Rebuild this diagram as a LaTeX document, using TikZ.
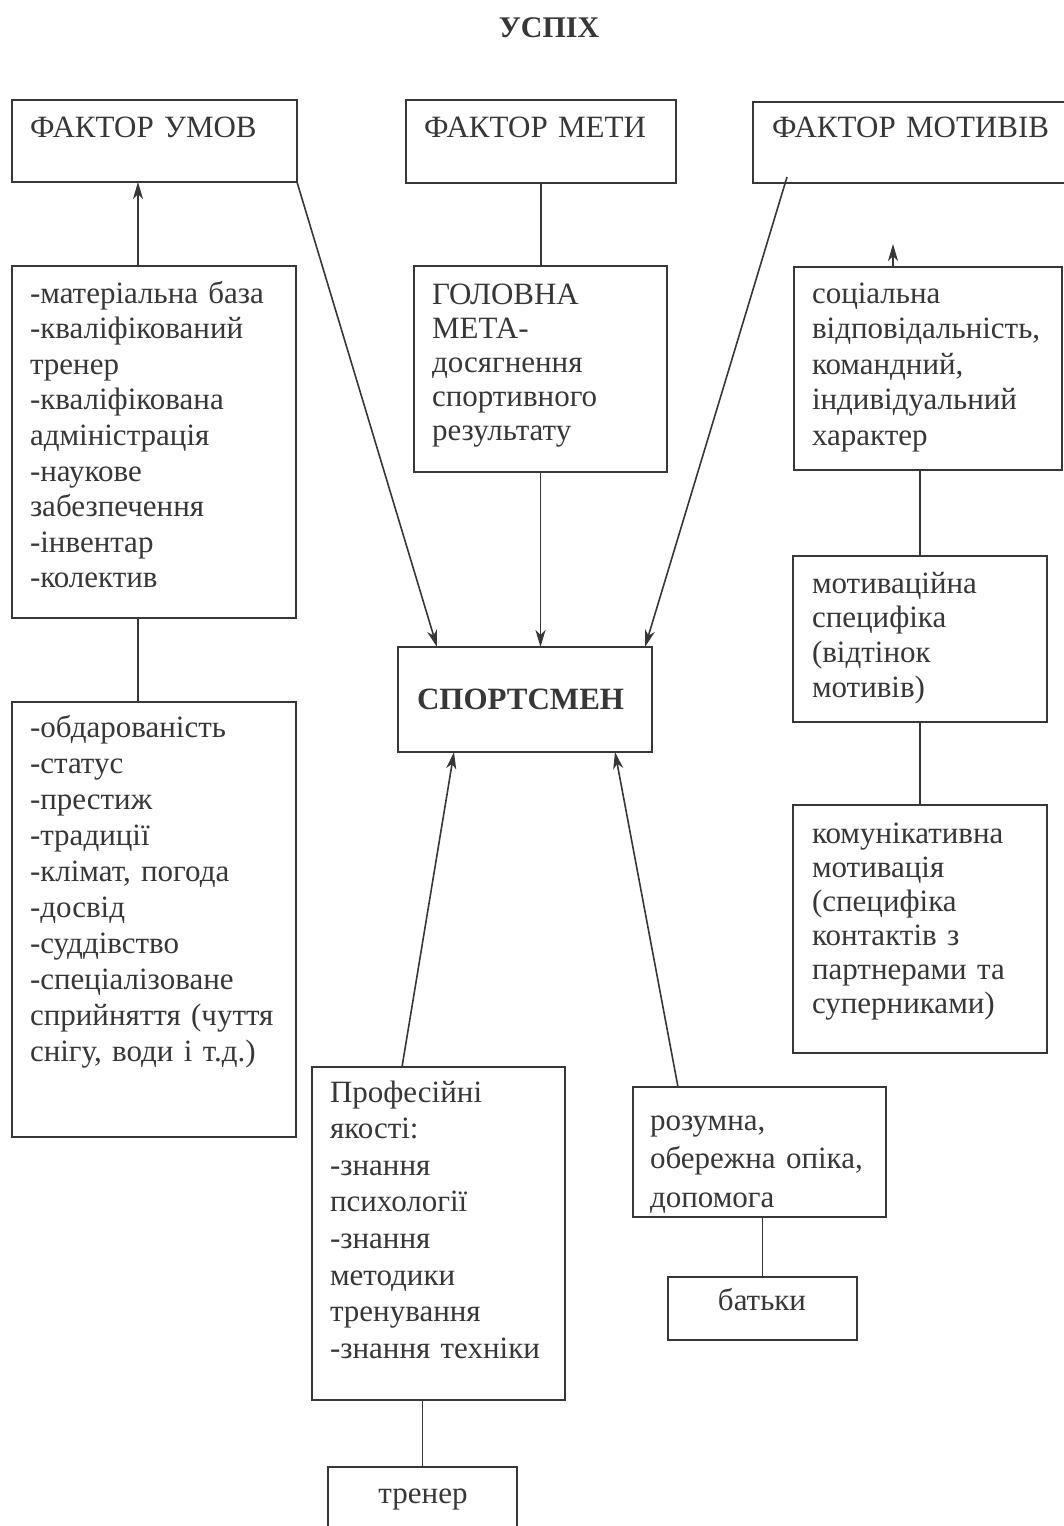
\documentclass[tikz,border=0pt]{standalone}
\usepackage{fontspec}
\setmainfont{Liberation Serif}
\usetikzlibrary{arrows.meta}
\definecolor{ink}{RGB}{55,55,55}
\tikzset{
  box/.style={draw=ink, line width=1.9pt, inner sep=0pt, outer sep=0pt, anchor=north west},
  txt/.style={text=ink, inner sep=0pt, outer sep=0pt, anchor=base west, align=left, text width=#1},
  txt/.default=300pt,
  lsp/.style={font=\fontsize{31}{#1}\selectfont},
  conn/.style={draw=ink, line width=1.6pt},
  arr/.style={conn, -{Stealth[length=17pt,width=10pt,inset=5pt]}},
}
\begin{document}
\begin{tikzpicture}[x=1pt,y=-1pt]
\useasboundingbox (0,0) rectangle (1064,1526);
\clip (0,0) rectangle (1064,1526);
% title
\node[text=ink, inner sep=0pt, anchor=base, font=\fontsize{30}{36}\selectfont\bfseries] (title) at (549,37) {УСПІХ};
% boxes
\node[box, minimum width=285pt, minimum height=82pt] (fU) at (12,100) {};
\node[box, minimum width=270pt, minimum height=83pt] (fM) at (406,100) {};
\node[box, minimum width=320pt, minimum height=81pt] (fMot) at (753,102) {};
\node[box, minimum width=284pt, minimum height=352pt] (L1) at (12,266) {};
\node[box, minimum width=284pt, minimum height=435pt] (L2) at (12,702) {};
\node[box, minimum width=253pt, minimum height=206pt] (G) at (414,266) {};
\node[box, minimum width=254pt, minimum height=105pt] (S) at (398,647) {};
\node[box, minimum width=268pt, minimum height=203pt] (R1) at (794,267) {};
\node[box, minimum width=254pt, minimum height=166pt] (R2) at (793,556) {};
\node[box, minimum width=254pt, minimum height=248pt] (R3) at (793,805) {};
\node[box, minimum width=253pt, minimum height=333pt] (P) at (312,1067) {};
\node[box, minimum width=253pt, minimum height=130pt] (Roz) at (633,1087) {};
\node[box, minimum width=189pt, minimum height=63pt] (Bat) at (668,1277) {};
\node[box, minimum width=189pt, minimum height=80pt] (Tr) at (328,1467) {};
% texts
\node[txt, lsp=36] (tU) at (30,137) {ФАКТОР УМОВ};
\node[txt, lsp=36] (tM) at (424,137) {ФАКТОР МЕТИ};
\node[txt, lsp=36] (tMot) at (772,137) {ФАКТОР МОТИВІВ};
\node[txt, lsp=35.6] (tL1) at (30,303) {-матеріальна база\\-кваліфікований\\тренер\\-кваліфікована\\адміністрація\\-наукове\\забезпечення\\-інвентар\\-колектив};
\node[txt, lsp=36.1] (tL2) at (30,737) {-обдарованість\\-статус\\-престиж\\-традиції\\-клімат, погода\\-досвід\\-суддівство\\-спеціалізоване\\сприйняття (чуття\\снігу, води і т.д.)};
\node[txt, lsp=34] (tG) at (432,304) {ГОЛОВНА\\МЕТА-\\досягнення\\спортивного\\результату};
\node[txt, lsp=36, font=\fontsize{31}{36}\selectfont\bfseries] (tS) at (417,709) {СПОРТСМЕН};
\node[txt, lsp=35.5] (tR1) at (812,303) {соціальна\\відповідальність,\\командний,\\індивідуальний\\характер};
\node[txt, lsp=34.7] (tR2) at (812,593) {мотиваційна\\специфіка\\(відтінок\\мотивів)};
\node[txt, lsp=34] (tR3) at (812,843) {комунікативна\\мотивація\\(специфіка\\контактів з\\партнерами та\\суперниками)};
\node[txt, lsp=36.6] (tP) at (330,1102) {Професійні\\якості:\\-знання\\психології\\-знання\\методики\\тренування\\-знання техніки};
\node[txt, lsp=38.5] (tRoz) at (650,1130) {розумна,\\обережна опіка,\\допомога};
\node[text=ink, inner sep=0pt, anchor=base, lsp=36] (tBat) at (762,1310) {батьки};
\node[text=ink, inner sep=0pt, anchor=base, lsp=36] (tTr) at (423,1503) {тренер};
% connectors
\draw[arr] ([xshift=126pt]L1.north west) -- ([xshift=126pt]fU.south west);
\draw[arr] (fU.south east) -- ([xshift=39pt]S.north west);
\draw[conn] (fM.south) -- (G.north -| fM.south);
\draw[arr] (G.south) -- (S.north -| G.south);
\draw[arr] ([xshift=34pt,yshift=6pt]fMot.south west) -- ([xshift=247pt]S.north west);
\coordinate (r1tip) at (893,244);
\draw[arr] ([xshift=99pt]R1.north west) -- (r1tip);
\draw[conn] (R2.north |- R1.south) -- (R2.north);
\draw[conn] (R2.south) -- (R3.north);
\draw[conn] ([xshift=126pt]L1.south west) -- ([xshift=126pt]L2.north west);
\draw[arr] ([xshift=90pt]P.north west) -- ([xshift=56pt]S.south west);
\draw[arr] ([xshift=45pt]Roz.north west) -- ([xshift=217pt]S.south west);
\draw[conn] (Bat.north |- Roz.south) -- (Bat.north);
\draw[conn] (Tr.north |- P.south) -- (Tr.north);
\end{tikzpicture}
\end{document}
